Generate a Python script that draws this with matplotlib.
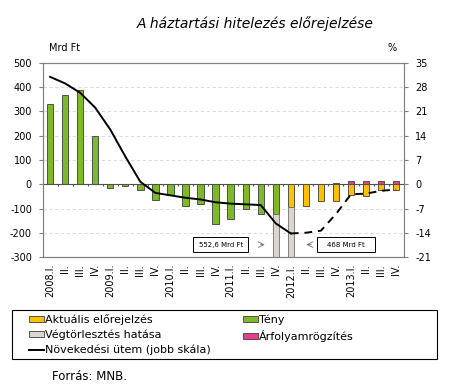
import numpy as np
import matplotlib.pyplot as plt
from matplotlib.patches import Patch, Rectangle
from matplotlib.lines import Line2D

plt.rcParams['font.family'] = 'DejaVu Sans'
plt.rcParams['axes.unicode_minus'] = False

quarters = ['2008.I.', 'II.', 'III.', 'IV.', '2009.I.', 'II.', 'III.', 'IV.',
            '2010.I.', 'II.', 'III.', 'IV.', '2011.I.', 'II.', 'III.', 'IV.',
            '2012.I.', 'II.', 'III.', 'IV.', '2013.I.', 'II.', 'III.', 'IV.']

# Mrd Ft, left scale
teny = [330, 370, 390, 200, -14, -8, -22, -67, -46, -89, -80, -164,
        -143, -100, -122, -122, 0, 0, 0, 0, 0, 0, 0, 0]
elorejelzes = [0, 0, 0, 0, 0, 0, 0, 0, 0, 0, 0, 0,
               0, 0, 0, 0, -92, -90, -70, -70, -43, -47, -22, -22]
arfolyam = [0, 0, 0, 0, 0, 0, 0, 0, 0, 0, 0, 0,
            0, 0, 0, 0, 0, 0, 2, 5, 12, 12, 12, 15]
vegtorlesztes = [0, 0, 0, 0, 0, 0, 0, 0, 0, 0, 0, 0,
                 0, 0, 0, -552.6, -468, 0, 0, 0, 0, 0, 0, 0]

# growth rate, %, right scale (solid = fact, dashed = forecast)
novekedes = [31.0, 29.1, 26.4, 22.1, 15.8, 8.0, 0.7, -2.5, -3.2, -3.9, -4.4, -5.2,
             -5.6, -5.8, -6.0, -11.3, -14.2, -14.0, -13.4, -8.6, -2.9, -2.7, -1.9, -1.5]
split = 16

green = '#7DB928'
yellow = '#FFC000'
grey = '#DAD5CD'
pink = '#E4408C'
edge = '#3C3C3C'

x = np.arange(len(quarters))
teny = np.array(teny)
elorejelzes = np.array(elorejelzes)
vegtorlesztes = np.array(vegtorlesztes)
neg_base = np.where(teny < 0, teny, 0) + elorejelzes

fig = plt.figure(figsize=(4.5, 3.91), dpi=100)
ax = fig.add_axes([0.0956, 0.3427, 0.8024, 0.4962])

ax.set_ylim(-300, 500)
ax.set_xlim(-0.47, 23.53)
ax.set_yticks(range(-300, 501, 100))
for yv in range(-200, 501, 100):
    if yv != 0:
        ax.axhline(yv, color='#D5D5D5', lw=0.6, ls=(0, (4, 3)), zorder=0)

w = 0.42
ax.bar(x, teny, w, color=green, edgecolor=edge, lw=0.6, zorder=2)
ax.bar(x, elorejelzes, w, color=yellow, edgecolor=edge, lw=0.6, zorder=2)
ax.bar(x, arfolyam, w, color=pink, edgecolor=edge, lw=0.6, zorder=2)
mask = vegtorlesztes != 0
ax.bar(x[mask], vegtorlesztes[mask], w, bottom=neg_base[mask], color=grey,
       edgecolor='#707070', lw=0.6, zorder=2)

ax.axhline(0, color='#505050', lw=0.8, zorder=3)
ax.vlines(x[:-1] + 0.5, -8, 0, color='#505050', lw=0.8, zorder=3)

for s in ax.spines.values():
    s.set_color('#808080')
    s.set_linewidth(0.8)
ax.tick_params(axis='y', length=3, width=0.8, color='#808080', pad=5, labelsize=7)
ax.set_xticks(x)
ax.set_xticklabels(quarters, rotation=90, fontsize=7)
ax.tick_params(axis='x', length=0, pad=5)

ax2 = ax.twinx()
ax2.set_ylim(-21, 35)
ax2.set_yticks(range(-21, 36, 7))
ax2.tick_params(axis='y', length=3, width=0.8, color='#808080', pad=5, labelsize=7)
for s in ax2.spines.values():
    s.set_color('#808080')
    s.set_linewidth(0.8)
ax2.plot(x[:split + 1], novekedes[:split + 1], color='black', lw=1.4, zorder=4)
ax2.plot(x[split:], novekedes[split:], color='black', lw=1.4, ls=(0, (4, 3)), zorder=4)

# annotation boxes for the final repayment effect
for cx, txt, bw, ax0, ax1 in [(11.34, '552,6 Mrd Ft', 3.65, 13.8, 14.45),
                              (19.68, '468 Mrd Ft', 3.85, 17.55, 16.85)]:
    ax.add_patch(Rectangle((cx - bw / 2, -280), bw, 62, fc='white', ec='black',
                           lw=0.7, zorder=5, clip_on=False))
    ax.text(cx, -249, txt, ha='center', va='center', fontsize=5, zorder=6)
    ax.annotate('', xy=(ax1, -249), xytext=(ax0, -249),
                arrowprops=dict(arrowstyle='->', color='#707070', lw=0.6), zorder=6)

fig.text(0.567, 0.94, 'A háztartási hitelezés előrejelzése', ha='center', va='center',
         fontsize=10, style='italic')
fig.text(0.109, 0.877, 'Mrd Ft', fontsize=7, va='center')
fig.text(0.862, 0.877, '%', fontsize=7, va='center')

handles = [Patch(fc=yellow, ec=edge, lw=0.6), Patch(fc=grey, ec=edge, lw=0.6),
           Line2D([], [], color='black', lw=1.4), Patch(fc=green, ec=edge, lw=0.6),
           Patch(fc=pink, ec=edge, lw=0.6)]
labels = ['Aktuális előrejelzés', 'Végtörlesztés hatása', 'Növekedési ütem (jobb skála)',
          'Tény', 'Árfolyamrögzítés']
fig.legend(handles, labels, ncol=2, loc='upper left',
           bbox_to_anchor=(29 / 450, 1 - 314 / 391),
           fontsize=8, frameon=False,
           handlelength=1.35, handleheight=0.45, handletextpad=0.1,
           labelspacing=0.42, columnspacing=2.9, borderpad=0, borderaxespad=0)
fig.patches.append(Rectangle((12 / 450, 1 - 359 / 391), 425 / 450, 49 / 391,
                             transform=fig.transFigure, fill=False,
                             ec='black', lw=0.8))

fig.text(0.116, 0.036, 'Forrás: MNB.', fontsize=8.5, va='center')

fig.savefig('out.png', dpi=100)
